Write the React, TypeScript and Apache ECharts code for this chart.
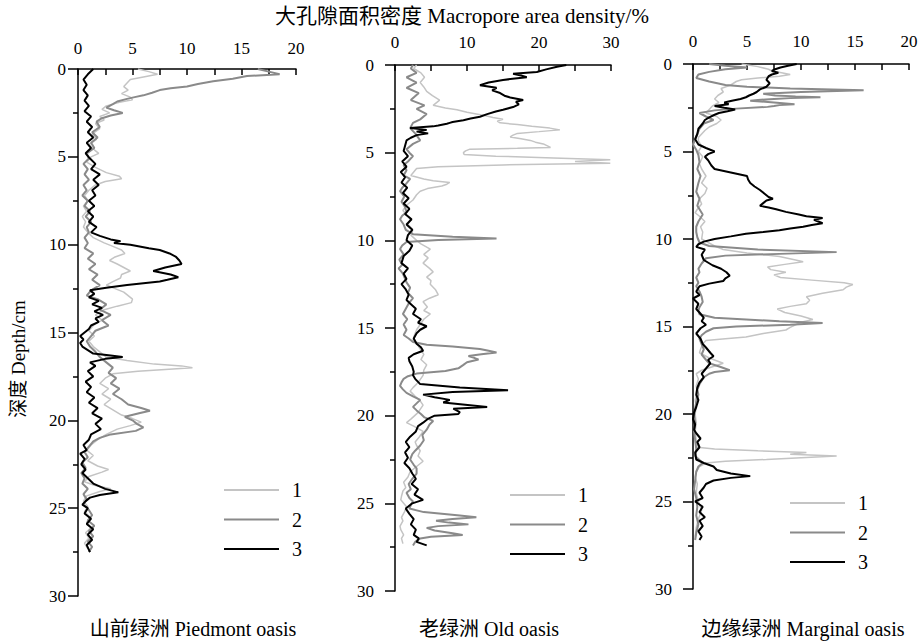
import React, { useEffect, useRef } from "react";
import * as echarts from "echarts";

// Each pair: [depth (cm), macropore area density (%)]
const piedmont1: number[][] = [[0,5.5],[0.15,6.5],[0.3,7.3],[0.45,6.0],[0.6,4.8],[0.8,4.5],[1.0,4.2],[1.2,4.6],[1.4,4.0],[1.6,4.8],[1.75,5.0],[1.9,3.8],[2.1,2.6],[2.3,2.2],[2.5,2.9],[2.7,2.0],[2.9,2.4],[3.1,1.6],[3.4,2.0],[3.7,1.3],[4.0,1.7],[4.3,1.0],[4.6,1.5],[4.8,1.9],[5.0,1.2],[5.3,0.8],[5.6,1.6],[5.9,2.6],[6.1,3.8],[6.25,4.0],[6.4,2.5],[6.6,1.6],[6.9,1.0],[7.2,0.6],[7.5,0.9],[7.8,0.5],[8.1,0.8],[8.4,0.4],[8.7,0.7],[9.0,0.5],[9.3,0.9],[9.6,1.4],[9.9,2.4],[10.1,3.2],[10.3,4.0],[10.5,4.3],[10.7,3.4],[10.9,2.9],[11.1,3.6],[11.3,4.2],[11.5,4.8],[11.7,4.0],[11.9,3.9],[12.1,3.2],[12.3,2.6],[12.5,3.4],[12.7,4.2],[12.9,4.6],[13.1,5.0],[13.3,4.9],[13.5,3.6],[13.7,2.4],[14.0,1.6],[14.3,2.2],[14.6,1.4],[14.9,1.0],[15.2,1.5],[15.5,1.0],[15.8,1.4],[16.1,2.0],[16.4,2.6],[16.6,4.5],[16.8,7.0],[16.9,9.5],[17.0,10.5],[17.1,8.0],[17.2,5.5],[17.35,3.2],[17.6,2.5],[17.9,2.0],[18.2,2.8],[18.5,2.2],[18.8,3.0],[19.1,2.4],[19.4,3.2],[19.7,4.0],[19.9,5.0],[20.1,5.8],[20.3,4.8],[20.5,3.6],[20.8,2.6],[21.1,1.8],[21.4,1.2],[21.7,0.8],[22.0,1.4],[22.3,0.9],[22.6,1.8],[22.8,2.8],[22.95,2.2],[23.2,1.0],[23.5,0.6],[23.7,1.5],[23.9,3.0],[24.05,2.0],[24.3,0.8],[24.6,0.5],[24.9,0.9],[25.2,0.6],[25.5,1.1],[25.8,0.8],[26.1,1.2],[26.4,0.7],[26.7,1.0],[27.0,0.6],[27.3,0.9]];
const piedmont2: number[][] = [[0,16.5],[0.15,17.5],[0.3,18.5],[0.4,15.5],[0.55,14.2],[0.7,12.4],[0.85,11.0],[1.0,10.0],[1.1,8.5],[1.2,7.5],[1.35,6.8],[1.5,6.0],[1.6,5.2],[1.7,4.5],[1.85,3.6],[2.0,3.2],[2.2,2.6],[2.35,3.3],[2.5,4.1],[2.65,3.0],[2.8,2.2],[3.0,1.7],[3.3,2.0],[3.6,1.3],[3.9,1.8],[4.2,1.2],[4.5,1.5],[4.8,0.8],[5.1,1.0],[5.4,0.5],[5.7,0.9],[6.0,0.6],[6.3,1.0],[6.6,0.5],[6.9,0.8],[7.2,0.4],[7.5,0.9],[7.8,0.6],[8.1,1.1],[8.4,0.7],[8.7,1.2],[9.0,0.8],[9.3,1.0],[9.6,0.6],[9.9,0.9],[10.2,0.6],[10.5,1.4],[10.8,0.9],[11.1,1.6],[11.4,1.0],[11.7,1.8],[12.0,1.3],[12.3,2.0],[12.6,1.2],[12.9,0.8],[13.1,1.8],[13.4,2.6],[13.7,2.0],[14.0,3.0],[14.3,2.2],[14.6,2.8],[14.9,1.6],[15.2,1.2],[15.5,0.8],[15.8,1.1],[16.1,1.6],[16.4,2.0],[16.7,2.6],[17.0,3.2],[17.3,2.8],[17.6,3.5],[17.9,3.0],[18.2,3.8],[18.5,3.2],[18.8,4.0],[19.1,4.6],[19.3,5.8],[19.45,6.6],[19.6,5.6],[19.8,4.3],[20.0,5.0],[20.2,5.4],[20.4,6.0],[20.6,5.3],[20.8,3.0],[21.0,2.0],[21.2,1.4],[21.5,1.0],[21.8,0.6],[22.1,0.9],[22.4,0.4],[22.7,0.7],[23.0,0.3],[23.3,0.6],[23.6,0.4],[23.9,0.9],[24.2,0.5],[24.5,0.8],[24.8,0.5],[25.1,1.0],[25.4,1.3],[25.7,0.9],[26.0,1.5],[26.3,1.0],[26.6,1.4],[26.9,0.9],[27.2,1.3],[27.5,1.0]];
const piedmont3: number[][] = [[0,1.4],[0.3,0.9],[0.6,0.5],[0.9,0.8],[1.2,0.5],[1.5,0.9],[1.8,0.6],[2.1,1.0],[2.4,0.6],[2.7,1.2],[3.0,0.8],[3.3,1.3],[3.6,0.9],[3.9,1.4],[4.2,0.8],[4.5,1.2],[4.8,0.7],[5.1,1.1],[5.4,1.6],[5.7,1.2],[6.0,2.0],[6.3,1.4],[6.6,1.9],[6.9,1.3],[7.2,1.6],[7.5,1.0],[7.8,1.5],[8.1,0.9],[8.4,1.4],[8.7,1.0],[9.0,1.7],[9.3,1.2],[9.5,2.0],[9.7,3.0],[9.8,3.9],[9.9,3.3],[10.0,4.8],[10.2,6.5],[10.3,7.5],[10.5,8.4],[10.7,9.0],[10.9,9.3],[11.1,9.5],[11.3,8.0],[11.5,6.9],[11.7,8.5],[11.85,9.2],[12.0,8.2],[12.1,7.5],[12.3,4.5],[12.45,2.6],[12.6,1.1],[12.8,1.5],[13.0,1.0],[13.2,1.9],[13.4,1.3],[13.6,2.2],[13.8,1.5],[14.0,2.3],[14.2,1.6],[14.4,1.9],[14.6,1.2],[14.8,1.0],[15.0,0.6],[15.2,0.2],[15.4,0.5],[15.6,0.2],[15.8,0.4],[16.0,0.9],[16.2,1.4],[16.3,2.8],[16.4,4.1],[16.5,2.5],[16.7,1.1],[16.9,1.6],[17.2,0.9],[17.5,1.4],[17.8,0.7],[18.1,1.2],[18.4,0.8],[18.7,1.5],[19.0,1.0],[19.3,1.8],[19.6,1.3],[19.9,2.2],[20.2,1.6],[20.5,2.1],[20.8,1.2],[21.1,1.0],[21.4,0.5],[21.7,0.8],[21.9,0.2],[22.2,0.6],[22.5,0.3],[22.8,0.7],[23.0,0.4],[23.3,0.9],[23.6,1.4],[23.9,2.5],[24.1,3.7],[24.25,2.0],[24.4,1.1],[24.6,0.7],[24.8,0.4],[25.0,0.9],[25.3,0.6],[25.6,1.2],[25.9,0.8],[26.2,1.4],[26.5,0.9],[26.8,1.3],[27.1,0.8],[27.5,1.1]];

const old1: number[][] = [[0,3.0],[0.2,2.6],[0.45,3.6],[0.7,4.1],[1.0,3.5],[1.25,4.0],[1.5,4.4],[1.75,5.2],[2.0,6.2],[2.2,5.6],[2.3,5.3],[2.45,7.0],[2.55,8.6],[2.7,10.0],[2.8,11.3],[2.9,12.6],[3.0,13.6],[3.1,15.0],[3.2,14.2],[3.3,14.6],[3.4,17.0],[3.5,19.0],[3.6,21.5],[3.7,22.9],[3.8,20.0],[3.9,17.0],[4.0,16.4],[4.1,16.0],[4.2,17.5],[4.3,18.8],[4.4,19.5],[4.5,20.6],[4.6,21.1],[4.7,21.6],[4.75,17.0],[4.8,10.4],[4.9,9.8],[5.0,9.5],[5.1,9.6],[5.2,14.0],[5.3,22.0],[5.4,29.9],[5.5,25.0],[5.6,29.9],[5.7,15.0],[5.8,6.0],[5.9,3.0],[6.1,2.6],[6.3,2.2],[6.5,4.0],[6.6,5.3],[6.7,7.6],[6.8,7.2],[6.9,6.5],[7.05,4.5],[7.2,3.5],[7.4,3.0],[7.7,2.5],[8.0,1.6],[8.3,1.1],[8.6,1.7],[8.8,2.1],[9.1,1.8],[9.4,2.5],[9.7,2.2],[10.0,3.0],[10.2,3.6],[10.5,4.9],[10.8,4.0],[11.0,4.6],[11.3,3.9],[11.6,4.8],[11.8,5.3],[12.1,4.4],[12.3,5.0],[12.5,4.9],[12.8,5.6],[13.1,6.0],[13.3,4.8],[13.5,3.9],[13.8,4.5],[14.0,4.0],[14.2,4.9],[14.5,4.0],[14.8,3.5],[15.1,3.0],[15.4,2.7],[15.7,2.5],[16.0,3.2],[16.2,3.5],[16.5,4.0],[16.8,3.6],[17.1,4.4],[17.4,4.0],[17.7,3.9],[18.0,3.4],[18.2,3.0],[18.4,2.5],[18.6,2.1],[18.9,2.8],[19.1,3.4],[19.4,3.9],[19.7,3.4],[19.9,3.0],[20.2,2.2],[20.4,1.6],[20.6,2.6],[20.9,3.9],[21.2,3.4],[21.5,2.8],[21.7,3.0],[22.0,3.5],[22.3,3.2],[22.6,3.9],[22.9,3.0],[23.2,2.1],[23.5,1.8],[23.8,1.2],[24.1,1.5],[24.3,1.1],[24.6,0.9],[24.8,0.8],[25.0,1.2],[25.2,1.6],[25.5,1.3],[25.8,0.9],[26.0,1.1],[26.3,0.7],[26.5,0.8],[26.8,1.2],[27.0,0.9],[27.3,1.1]];
const old2: number[][] = [[0,2.5],[0.2,2.2],[0.45,3.0],[0.7,1.6],[1.0,3.0],[1.3,1.6],[1.6,3.3],[2.0,2.2],[2.3,4.1],[2.5,3.0],[2.8,4.4],[3.1,3.5],[3.3,2.5],[3.6,2.1],[3.9,2.8],[4.3,3.5],[4.5,2.5],[4.8,1.6],[5.0,2.0],[5.2,2.5],[5.5,1.8],[5.7,1.2],[6.0,1.6],[6.3,1.2],[6.5,2.1],[6.8,1.5],[7.0,1.0],[7.2,0.7],[7.5,1.3],[7.8,0.9],[8.1,1.4],[8.4,1.6],[8.6,1.0],[8.8,0.7],[9.1,1.2],[9.4,1.5],[9.65,2.5],[9.8,8.0],[9.9,14.1],[9.98,6.0],[10.1,1.6],[10.3,1.0],[10.5,0.7],[10.8,1.2],[11.1,0.6],[11.4,1.0],[11.6,0.5],[11.9,1.1],[12.2,1.4],[12.4,1.6],[12.7,2.1],[13.0,1.8],[13.3,2.5],[13.6,1.9],[13.9,1.5],[14.2,1.1],[14.5,1.7],[14.8,1.2],[15.1,1.6],[15.4,1.2],[15.6,1.9],[15.8,2.5],[15.95,4.4],[16.05,8.0],[16.2,11.8],[16.3,13.0],[16.4,14.1],[16.5,12.0],[16.6,10.2],[16.7,11.0],[16.8,11.6],[16.95,10.0],[17.1,9.5],[17.3,8.8],[17.45,7.0],[17.6,3.0],[17.75,1.8],[17.9,1.2],[18.1,0.9],[18.3,0.7],[18.5,1.1],[18.7,1.6],[18.9,2.5],[19.1,3.5],[19.3,3.0],[19.5,2.5],[19.7,3.0],[19.9,3.6],[20.1,4.1],[20.3,5.3],[20.5,4.8],[20.8,4.4],[21.1,3.8],[21.4,4.0],[21.7,3.5],[22.0,2.8],[22.2,2.4],[22.5,2.1],[22.8,2.6],[23.0,3.0],[23.3,3.0],[23.6,2.4],[23.9,1.9],[24.2,2.2],[24.4,1.6],[24.7,2.0],[24.9,2.5],[25.1,2.2],[25.3,2.0],[25.5,4.0],[25.7,9.0],[25.8,11.3],[25.9,8.0],[26.0,5.7],[26.1,7.5],[26.2,10.2],[26.3,6.0],[26.4,4.4],[26.55,5.5],[26.7,8.0],[26.8,9.4],[26.9,5.0],[27.0,3.5],[27.2,2.8],[27.4,2.5]];
const old3: number[][] = [[0,23.8],[0.1,22.5],[0.25,21.0],[0.4,19.7],[0.5,16.4],[0.6,17.5],[0.7,18.3],[0.85,15.0],[1.0,13.0],[1.15,11.8],[1.3,14.1],[1.45,13.5],[1.6,14.6],[1.75,15.2],[1.85,16.0],[2.0,17.8],[2.1,16.8],[2.25,17.2],[2.4,16.4],[2.55,15.0],[2.65,14.0],[2.8,12.8],[2.95,11.8],[3.05,10.5],[3.15,9.5],[3.25,8.0],[3.3,7.6],[3.35,7.2],[3.45,6.0],[3.5,5.3],[3.55,3.5],[3.6,2.1],[3.7,4.4],[3.8,3.0],[3.9,4.6],[4.0,3.0],[4.15,2.2],[4.3,1.6],[4.6,1.4],[4.9,1.2],[5.2,1.8],[5.5,1.0],[5.8,1.6],[6.1,0.8],[6.4,1.4],[6.7,0.9],[7.0,1.7],[7.3,1.1],[7.6,1.9],[7.9,1.2],[8.2,2.0],[8.5,1.4],[8.8,2.3],[9.1,1.6],[9.4,2.4],[9.7,1.8],[10.0,1.6],[10.3,2.4],[10.6,2.0],[10.9,1.2],[11.3,0.9],[11.6,1.8],[11.9,1.2],[12.2,1.6],[12.5,0.9],[12.8,1.5],[13.1,1.9],[13.4,1.6],[13.6,2.1],[13.9,2.9],[14.2,2.5],[14.5,3.6],[14.7,3.2],[14.9,4.4],[15.1,3.5],[15.3,3.0],[15.6,2.6],[15.9,3.0],[16.1,3.6],[16.3,3.9],[16.5,2.6],[16.7,1.9],[16.9,2.0],[17.2,2.4],[17.5,2.6],[17.7,2.5],[17.9,2.8],[18.2,3.5],[18.4,9.0],[18.55,15.7],[18.65,8.0],[18.8,3.9],[18.95,5.5],[19.1,7.6],[19.25,6.7],[19.5,12.8],[19.6,8.1],[19.8,9.0],[19.9,8.8],[20.0,5.5],[20.2,4.5],[20.4,3.9],[20.6,3.2],[20.9,2.9],[21.2,2.1],[21.5,1.5],[21.8,2.0],[22.1,1.4],[22.4,1.8],[22.7,1.3],[23.0,2.0],[23.3,2.4],[23.6,2.9],[23.9,2.3],[24.2,3.2],[24.5,2.7],[24.8,3.9],[25.0,2.4],[25.3,1.5],[25.6,2.0],[25.9,2.6],[26.2,2.2],[26.5,2.9],[26.8,2.6],[27.0,3.3],[27.2,3.0],[27.4,4.4]];

const marginal1: number[][] = [[0,4.5],[0.15,6.0],[0.3,7.0],[0.4,7.3],[0.5,8.2],[0.6,9.0],[0.7,8.0],[0.8,6.0],[0.9,4.5],[1.0,4.0],[1.2,3.5],[1.4,2.6],[1.6,2.8],[1.8,2.3],[2.0,2.0],[2.2,2.4],[2.4,1.8],[2.6,1.5],[2.8,1.2],[3.0,2.2],[3.2,2.6],[3.4,2.2],[3.6,1.5],[3.8,1.1],[4.0,0.8],[4.2,0.5],[4.4,0.5],[4.7,0.8],[5.0,0.5],[5.3,0.9],[5.7,0.6],[6.0,0.8],[6.4,1.2],[6.8,0.8],[7.1,1.3],[7.4,1.1],[7.7,0.6],[8.0,0.8],[8.3,0.4],[8.5,0.2],[8.7,0.6],[9.0,1.1],[9.3,0.7],[9.6,0.9],[10.0,0.8],[10.2,1.4],[10.4,2.0],[10.6,2.8],[10.8,5.0],[11.0,8.0],[11.2,9.5],[11.3,10.2],[11.45,8.5],[11.6,6.9],[11.75,7.2],[11.9,8.6],[12.05,7.5],[12.2,8.1],[12.35,11.0],[12.5,14.0],[12.6,14.8],[12.75,14.2],[12.9,13.9],[13.1,12.0],[13.3,10.5],[13.5,10.8],[13.7,10.5],[13.85,9.0],[14.0,7.8],[14.2,8.5],[14.4,10.0],[14.6,11.1],[14.75,10.0],[14.9,9.5],[15.05,9.0],[15.2,8.6],[15.4,6.5],[15.6,4.9],[15.7,3.0],[15.8,1.2],[16.0,0.9],[16.3,0.7],[16.5,0.6],[16.8,1.5],[17.1,2.8],[17.3,1.8],[17.5,0.8],[17.7,0.3],[18.0,0.5],[18.4,0.3],[18.8,0.4],[19.2,0.2],[19.6,0.3],[20.0,0.2],[20.5,0.3],[21.0,0.2],[21.5,0.3],[21.9,0.4],[22.0,2.0],[22.1,6.0],[22.2,10.5],[22.3,9.0],[22.4,13.3],[22.5,10.0],[22.6,6.8],[22.7,3.0],[22.8,1.2],[23.0,0.6],[23.3,0.3],[23.6,0.2],[24.0,0.4],[24.5,0.3],[25.0,0.5],[25.5,0.8],[26.0,0.5],[26.5,0.3],[27.0,0.2]];
const marginal2: number[][] = [[0,1.5],[0.1,3.0],[0.2,5.0],[0.3,3.0],[0.45,1.5],[0.6,0.5],[0.8,0.3],[1.0,1.5],[1.2,3.0],[1.3,5.0],[1.4,9.0],[1.5,15.8],[1.6,10.0],[1.7,6.5],[1.8,7.6],[1.85,9.5],[1.9,11.8],[1.95,9.0],[2.0,7.5],[2.05,6.0],[2.1,5.3],[2.2,7.5],[2.3,9.4],[2.35,8.0],[2.4,7.5],[2.45,6.9],[2.55,4.0],[2.65,2.0],[2.8,0.6],[3.0,1.2],[3.2,1.9],[3.4,1.0],[3.7,0.6],[4.0,0.4],[4.3,0.2],[4.6,0],[4.9,0.3],[5.2,0.5],[5.6,0.6],[6.0,0.4],[6.4,0.7],[6.8,0.5],[7.3,0.3],[7.7,0.6],[8.1,0.4],[8.6,0.9],[9.0,0.5],[9.3,0.3],[9.6,0.3],[9.9,0.4],[10.2,0.6],[10.4,1.5],[10.6,6.0],[10.75,13.3],[10.85,8.0],[10.95,3.0],[11.1,1.2],[11.4,0.8],[11.7,0.5],[11.9,0.6],[12.2,0.3],[12.5,0.5],[12.7,0.3],[13.0,0.6],[13.3,0.8],[13.6,0.9],[13.9,0.6],[14.1,0.5],[14.3,0.6],[14.5,2.0],[14.7,8.0],[14.8,12.0],[14.9,9.0],[15.0,4.0],[15.1,1.9],[15.3,1.2],[15.5,0.8],[15.7,0.6],[16.0,0.8],[16.3,1.0],[16.6,0.8],[16.9,1.2],[17.1,1.5],[17.3,2.5],[17.5,3.4],[17.6,2.0],[17.7,1.5],[17.9,1.0],[18.1,0.8],[18.3,0.6],[18.6,0.4],[18.9,0.5],[19.3,0.3],[19.7,0.2],[20.1,0.1],[20.5,0.2],[21.0,0.1],[21.5,0.2],[22.0,0.3],[22.4,0.2],[22.8,0.9],[23.0,0.5],[23.3,0.3],[23.8,0.2],[24.3,0.1],[24.8,0.3],[25.3,0.4],[25.8,0.3],[26.3,0.5],[26.8,0.3],[27.2,0.2]];
const marginal3: number[][] = [[0,9.6],[0.1,8.8],[0.2,8.1],[0.3,7.6],[0.4,7.3],[0.5,7.9],[0.6,7.3],[0.7,7.0],[0.9,6.8],[1.1,7.1],[1.3,6.8],[1.45,6.2],[1.6,5.9],[1.7,5.6],[1.8,5.2],[1.9,4.9],[2.0,4.4],[2.1,3.6],[2.2,2.9],[2.3,3.3],[2.4,2.0],[2.5,2.9],[2.6,3.9],[2.7,3.2],[2.8,2.4],[2.9,2.0],[3.05,1.5],[3.2,1.1],[3.4,0.9],[3.7,0.5],[4.0,0.4],[4.3,0.2],[4.6,0.5],[4.8,1.2],[5.0,2.0],[5.15,1.4],[5.3,1.1],[5.5,1.4],[5.8,1.7],[6.0,2.0],[6.2,3.5],[6.4,5.0],[6.6,5.1],[6.8,5.3],[7.0,5.7],[7.2,6.2],[7.4,6.6],[7.6,7.0],[7.7,7.4],[7.8,6.8],[7.95,6.5],[8.1,6.2],[8.2,7.0],[8.3,7.7],[8.45,8.6],[8.6,9.8],[8.7,10.5],[8.8,12.0],[8.9,11.2],[9.0,11.6],[9.1,12.0],[9.2,11.0],[9.3,10.2],[9.4,9.0],[9.5,8.0],[9.6,6.5],[9.7,4.9],[9.85,3.5],[10.0,2.0],[10.15,1.0],[10.3,0.5],[10.45,0.3],[10.6,1.1],[10.9,0.8],[11.2,1.0],[11.5,1.8],[11.7,2.6],[11.9,3.1],[12.1,3.4],[12.25,3.0],[12.4,2.8],[12.55,1.5],[12.7,0.6],[13.0,0.3],[13.2,0.6],[13.4,0],[13.7,0.5],[14.0,0.3],[14.2,0.6],[14.5,1.0],[14.7,0.8],[14.9,1.2],[15.1,0.7],[15.4,0.3],[15.7,0.7],[16.0,0.9],[16.2,1.2],[16.5,1.6],[16.7,1.9],[16.9,1.4],[17.1,1.6],[17.4,1.2],[17.7,0.8],[17.9,1.0],[18.2,0.6],[18.5,0.4],[18.9,0.3],[19.2,0.5],[19.6,0.3],[19.9,0.1],[20.3,0],[20.6,0.2],[20.9,0.1],[21.1,0.3],[21.4,0.7],[21.6,0.4],[21.9,0.6],[22.2,0.2],[22.6,0.3],[22.8,1.0],[23.0,1.9],[23.2,2.2],[23.4,3.5],[23.55,5.3],[23.65,3.5],[23.8,1.9],[24.0,1.2],[24.2,1.0],[24.5,0.6],[24.8,0.9],[25.0,0.2],[25.3,0.9],[25.6,0.6],[25.9,1.1],[26.1,0.6],[26.4,0.9],[26.7,0.5],[27.0,0.8],[27.2,0.6]];

const seriesNames = ["1", "2", "3"];
const seriesColors = ["#c4c4c4", "#8a8a8a", "#000000"];
const seriesWidths = [1.5, 2, 2];
const panelTitles = ["山前绿洲 Piedmont oasis", "老绿洲 Old oasis", "边缘绿洲 Marginal oasis"];
const xMaxes = [20, 30, 20];
const xIntervals = [2.5, 5, 2.5];
const xLabelSteps = [5, 10, 5];
const depthMax = 30;
const depthInterval = 5;
const xTitle = "大孔隙面积密度 Macropore area density/%";
const yTitle = "深度 Depth/cm";

const FONT = "'Liberation Serif', 'Times New Roman', 'Noto Sans CJK SC', serif";

const grids = [
  { left: 78, top: 69, width: 218, height: 527 },
  { left: 395, top: 65, width: 216, height: 526 },
  { left: 693, top: 64, width: 216, height: 525 },
];
const yLabelMargins = [12, 21, 21];
const xLabelMargins = [12, 14, 14];
const legendPos = [
  { left: 223, top: 480 },
  { left: 509, top: 485 },
  { left: 789, top: 493 },
];
const titleCenters = [193, 489, 803];

export default function App() {
  const ref = useRef<HTMLDivElement>(null);
  useEffect(() => {
    if (!ref.current) return;
    const chart = echarts.init(ref.current, undefined, { renderer: "svg" });
    const panelData = [
      [piedmont1, piedmont2, piedmont3],
      [old1, old2, old3],
      [marginal1, marginal2, marginal3],
    ];
    const xAxis = grids.map((_, i) => ({
      type: "value",
      gridIndex: i,
      position: "top",
      min: 0,
      max: xMaxes[i],
      interval: xIntervals[i],
      axisLine: { show: true, lineStyle: { color: "#000", width: 1.5 } },
      axisTick: { show: true, inside: true, length: 6, lineStyle: { color: "#000", width: 1.5 } },
      axisLabel: {
        show: true,
        margin: xLabelMargins[i],
        color: "#000",
        fontFamily: FONT,
        fontSize: 17,
        formatter: (v: number) => (Math.abs(v % xLabelSteps[i]) < 1e-9 ? String(v) : ""),
      },
      splitLine: { show: false },
    }));
    const yAxis = grids.map((_, i) => ({
      type: "value",
      gridIndex: i,
      inverse: true,
      min: 0,
      max: depthMax,
      interval: depthInterval,
      axisLine: { show: true, lineStyle: { color: "#000", width: 1.5 } },
      axisTick: { show: true, inside: false, length: 10, lineStyle: { color: "#000", width: 1.5 } },
      minorTick: { show: true, splitNumber: 2, length: 5, lineStyle: { color: "#000", width: 1.5 } },
      axisLabel: { show: true, margin: yLabelMargins[i], color: "#000", fontFamily: FONT, fontSize: 17 },
      splitLine: { show: false },
      minorSplitLine: { show: false },
    }));
    const series: any[] = [];
    panelData.forEach((arrs, p) => {
      arrs.forEach((arr, k) => {
        series.push({
          type: "line",
          name: seriesNames[k],
          xAxisIndex: p,
          yAxisIndex: p,
          data: arr.map(([d, v]) => [v, d]),
          symbol: "none",
          smooth: false,
          lineStyle: { color: seriesColors[k], width: seriesWidths[k] },
          itemStyle: { color: seriesColors[k] },
          z: 2 + k,
        });
      });
    });
    const legend = legendPos.map((pos) => ({
      data: seriesNames,
      orient: "vertical",
      left: pos.left,
      top: pos.top,
      padding: 0,
      itemWidth: 55,
      itemHeight: 20,
      itemGap: 9.5,
      selectedMode: false,
      itemStyle: { opacity: 0, borderWidth: 0 },
      textStyle: { color: "#000", fontFamily: FONT, fontSize: 20, lineHeight: 20, padding: [0, 0, 0, 8] },
    }));
    const graphic: any[] = [
      {
        type: "text",
        left: "center",
        top: 5,
        style: { text: xTitle, fill: "#000", font: `21px ${FONT}` },
      },
      {
        type: "text",
        x: 18,
        y: 359,
        rotation: Math.PI / 2,
        style: { text: yTitle, fill: "#000", font: `19px ${FONT}`, textAlign: "center", textVerticalAlign: "middle" },
      },
      ...panelTitles.map((t, i) => ({
        type: "text",
        x: titleCenters[i],
        y: 629,
        style: { text: t, fill: "#000", font: `20px ${FONT}`, textAlign: "center", textVerticalAlign: "middle" },
      })),
    ];
    chart.setOption({
      animation: false,
      backgroundColor: "#fff",
      grid: grids,
      xAxis,
      yAxis,
      series,
      legend,
      graphic,
    });
    return () => chart.dispose();
  }, []);
  return <div ref={ref} style={{ width: 924, height: 641, position: "absolute", left: 0, top: 0 }} />;
}
